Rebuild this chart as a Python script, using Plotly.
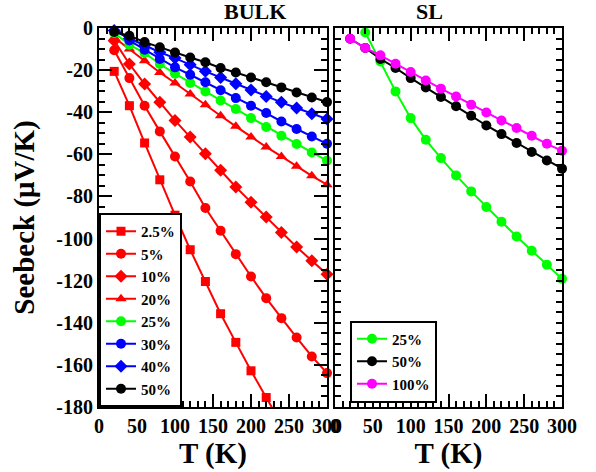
import plotly.graph_objects as go

# ---------------- data ----------------
T = [20, 40, 60, 80, 100, 120, 140, 160, 180, 200, 220, 240, 260, 280, 300]
T_25 = T[:12]
bulk_2p5 = [-20.6, -36.9, -54.6, -72.1, -88.9, -105.3, -120.4, -135.7, -149.3, -162.8, -175.5, -188.0]
bulk_5 = [-10.6, -23.8, -36.9, -49.1, -61.0, -72.9, -85.5, -96.3, -107.4, -118.0, -128.3, -137.8, -147.0, -156.0, -163.9]
bulk_10 = [-6.0, -17.1, -26.6, -35.3, -43.9, -51.8, -59.7, -67.6, -75.5, -82.7, -89.8, -97.1, -104.0, -110.5, -116.9]
bulk_20 = [-4.5, -10.0, -15.5, -21.1, -26.1, -31.4, -36.4, -41.7, -46.7, -51.8, -56.5, -61.0, -65.7, -70.2, -74.4]
bulk_25 = [-2.4, -7.9, -11.9, -17.1, -21.7, -26.1, -30.1, -34.4, -38.5, -42.8, -47.0, -51.2, -55.1, -59.1, -63.0]
bulk_30 = [0.5, -5.9, -10.3, -14.7, -18.7, -22.2, -25.8, -29.6, -33.3, -36.9, -40.4, -44.4, -48.0, -51.5, -55.0]
bulk_40 = [-1.2, -5.0, -8.2, -11.5, -14.3, -17.5, -20.6, -23.5, -26.5, -29.5, -32.5, -35.3, -38.0, -40.7, -43.2]
bulk_50 = [-1.9, -3.7, -6.7, -9.2, -11.6, -14.0, -16.3, -19.0, -21.1, -23.5, -25.8, -28.2, -30.6, -33.0, -35.2]

T_sl25 = T[1:]
sl_25 = [-2.1, -15.9, -30.1, -42.8, -53.1, -61.8, -70.0, -77.6, -85.0, -92.0, -99.0, -105.8, -112.4, -119.1]
sl_50 = [-5.1, -9.5, -14.7, -19.0, -23.8, -28.2, -32.8, -37.2, -41.7, -46.3, -50.4, -54.6, -58.9, -62.9, -66.8]
sl_100 = [-5.1, -9.5, -13.0, -17.0, -20.9, -24.9, -28.8, -32.5, -36.4, -40.1, -43.9, -47.5, -51.2, -55.0, -58.3]

x_tickvals = [0, 50, 100, 150, 200, 250, 300]
x_ticktext = ["0", "50", "100", "150", "200", "250", "300"]
y_tickvals = [0, -20, -40, -60, -80, -100, -120, -140, -160, -180]
y_ticktext = ["0", "-20", "-40", "-60", "-80", "-100", "-120", "-140", "-160", "-180"]

RED, GREEN, BLUE, BLACK, MAG = "#ff0000", "#00ff00", "#0000ff", "#000000", "#ff00ff"
FONT = "'Liberation Serif', 'Times New Roman', Times, serif"

fig = go.Figure()

def add(x, y, name, color, symbol, size, xa, ya, legend, clip=False):
    fig.add_trace(go.Scatter(
        x=x, y=y, name=name, mode="lines+markers",
        line=dict(color=color, width=2),
        marker=dict(color=color, symbol=symbol, size=size),
        xaxis=xa, yaxis=ya, legend=legend, cliponaxis=clip))

add(T_25, bulk_2p5, "2.5%", RED, "square", 9, "x", "y", "legend", clip=True)
add(T, bulk_5, "5%", RED, "circle", 10, "x", "y", "legend")
add(T, bulk_10, "10%", RED, "diamond", 10, "x", "y", "legend")
add(T, bulk_20, "20%", RED, "triangle-up", 10, "x", "y", "legend")
add(T, bulk_25, "25%", GREEN, "circle", 10, "x", "y", "legend")
add(T, bulk_30, "30%", BLUE, "circle", 10, "x", "y", "legend")
add(T, bulk_40, "40%", BLUE, "diamond", 10, "x", "y", "legend")
add(T, bulk_50, "50%", BLACK, "circle", 10, "x", "y", "legend")

add(T_sl25, sl_25, "25%", GREEN, "circle", 10, "x2", "y2", "legend2")
add(T, sl_50, "50%", BLACK, "circle", 10, "x2", "y2", "legend2")
add(T, sl_100, "100%", MAG, "circle", 10, "x2", "y2", "legend2")

W, H = 596, 472
L, R, TOP, B = 99, 34, 28, 65
pw = W - L - R
ph = H - TOP - B
d1 = [0, (327 - L) / pw]
d2 = [(335 - L) / pw, 1]

tickfont = dict(family=FONT, size=20, color="black", weight="bold")
titlefont = dict(family=FONT, size=29, color="black", weight="bold")

def xaxis(domain, anchor):
    return dict(domain=domain, anchor=anchor, range=[0, 300], automargin=False,
                tickvals=x_tickvals, ticktext=x_ticktext, tickfont=tickfont,
                ticks="inside", ticklen=13, tickwidth=1.5, tickcolor="black",
                minor=dict(ticks="inside", ticklen=6, dtick=10, tickwidth=1.5, tickcolor="black"),
                showline=True, linewidth=2, linecolor="black", mirror="ticks",
                showgrid=False, zeroline=False,
                title=dict(text="T (K)", font=titlefont, standoff=2))

def yaxis(anchor, labels, title=None):
    d = dict(anchor=anchor, range=[-180, 0], automargin=False,
             tickvals=y_tickvals, ticktext=y_ticktext if labels else [""] * len(y_tickvals),
             showticklabels=labels, tickfont=tickfont,
             ticks="inside", ticklen=13, tickwidth=1.5, tickcolor="black",
             minor=dict(ticks="inside", ticklen=6, dtick=5, tickwidth=1.5, tickcolor="black"),
             showline=True, linewidth=2, linecolor="black", mirror="ticks",
             showgrid=False, zeroline=False)
    if title:
        d["title"] = dict(text=title, font=titlefont, standoff=13)
    return d

legfont = dict(family=FONT, size=15, color="black", weight="bold")
subfont = dict(family=FONT, size=22, color="black", weight="bold")
fig.update_layout(
    width=W, height=H,
    margin=dict(l=L, r=R, t=TOP, b=B, autoexpand=False),
    plot_bgcolor="white", paper_bgcolor="white",
    xaxis=xaxis(d1, "y"),
    yaxis=yaxis("x", True, "Seebeck (μV/K)"),
    xaxis2=xaxis(d2, "y2"),
    yaxis2=yaxis("x2", False),
    legend=dict(x=0, y=0, xanchor="left", yanchor="bottom", bgcolor="white",
                bordercolor="black", borderwidth=2, font=legfont, tracegroupgap=0),
    legend2=dict(x=(350 - L) / pw, y=4.5 / ph, xanchor="left", yanchor="bottom",
                 bgcolor="white", bordercolor="black", borderwidth=2, font=legfont),
    annotations=[
        dict(text="BULK", x=(221.5 - L) / pw, y=1, xref="paper", yref="paper",
             yanchor="middle", yshift=17, showarrow=False, font=subfont),
        dict(text="SL", x=(445 - L) / pw, y=1, xref="paper", yref="paper",
             yanchor="middle", yshift=17, showarrow=False, font=subfont),
    ],
)

fig.write_html("out.html", config={"displayModeBar": False},
               post_script="document.body.style.margin='0px';")
